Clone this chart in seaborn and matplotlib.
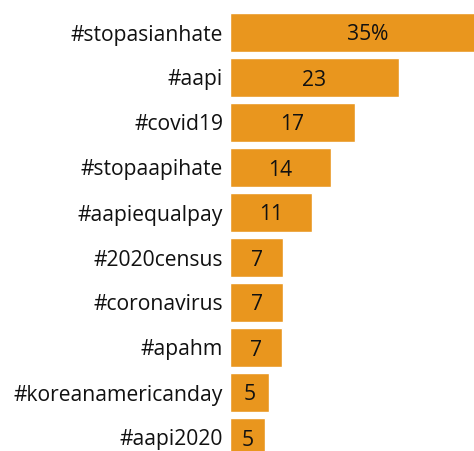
import matplotlib
matplotlib.use("Agg")
import matplotlib.pyplot as plt
import seaborn as sns
import pandas as pd

hashtags = ["#stopasianhate", "#aapi", "#covid19", "#stopaapihate", "#aapiequalpay",
            "#2020census", "#coronavirus", "#apahm", "#koreanamericanday", "#aapi2020"]
shares = [35.3, 23.1, 17.1, 13.8, 11.2, 7.3, 7.3, 7.1, 5.3, 4.8]

df = pd.DataFrame({"tag": hashtags, "share": shares})

sns.set_theme(style="white")
plt.rcParams["font.family"] = ["Open Sans", "DejaVu Sans"]

W, H = 474, 451
fig = plt.figure(figsize=(W / 100, H / 100), dpi=100)
x0 = 230
ax = fig.add_axes([x0 / W, 0, (W - x0) / W, 1])

sns.barplot(data=df, x="share", y="tag", orient="h", color="#E9961E",
            saturation=1, width=0.85, ax=ax)

ax.set_xlim(0, (W - x0) / 7.3)
ax.set_ylim((H - 32.5) / 45, -32.5 / 45)
ax.set_xlabel("")
ax.set_ylabel("")
ax.set_xticks([])
ax.tick_params(axis="y", length=0, pad=5, labelsize=15.2, labelcolor="#111111")
for s in ax.spines.values():
    s.set_visible(False)

for i, v in enumerate(shares):
    t = ax.text(v / 2, i, f"{round(v)}", ha="center", va="center_baseline",
                fontsize=15.2, color="#111111")
    if i == 0:
        ax.annotate("%", xy=(1, 0), xycoords=t, ha="left", va="bottom",
                    fontsize=15.2, color="#111111")

fig.savefig("out.png", dpi=100)
